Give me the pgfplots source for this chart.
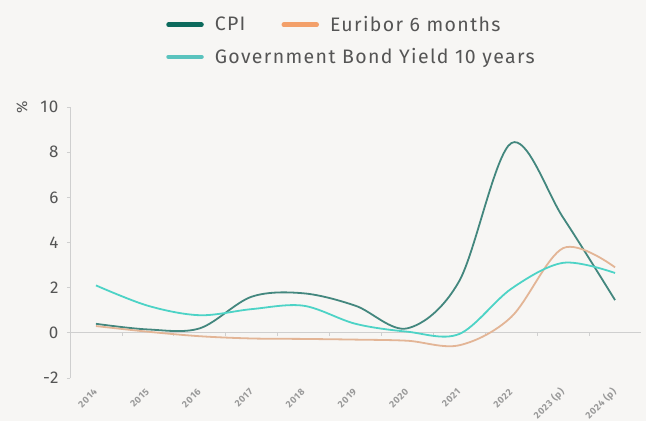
\documentclass[border=0pt]{standalone}
\usepackage{pgfplots}
\pgfplotsset{compat=1.18}
\usepackage{fontspec}
\setmainfont{Fira Sans}[LetterSpace=7]
\definecolor{bg}{HTML}{F7F6F4}
\definecolor{axisgray}{HTML}{CFCFCF}
\definecolor{labelgray}{HTML}{555555}
\definecolor{xlabgray}{HTML}{9A9A9A}
\definecolor{cpiline}{HTML}{43877E}
\definecolor{eurline}{HTML}{E3B596}
\definecolor{bondline}{HTML}{4DD3C6}
\definecolor{cpileg}{HTML}{0D6B5D}
\definecolor{eurleg}{HTML}{F3A06A}
\definecolor{bondleg}{HTML}{5AC3BE}
\begin{document}
\begin{tikzpicture}
\fill[bg] (0,0) rectangle (646pt,421pt);
\path[use as bounding box] (0,0) rectangle (646pt,421pt);
\begin{axis}[
  at={(70pt,43pt)}, anchor=south west,
  scale only axis, width=571pt, height=271pt,
  xmin=-0.5, xmax=10.5, ymin=-2, ymax=10,
  axis y line*=left, axis x line*=middle,
  axis line style={draw=axisgray, line width=0.9pt, -},
  ytick={-2,0,...,10},
  /pgf/number format/assume math mode=true,
  yticklabel style={font=\fontsize{17}{17}\selectfont, text=labelgray, xshift=-5pt},
  tick style={draw=axisgray, line width=0.8pt},
  tick align=outside, major tick length=3pt,
  xtick={0.5,1.5,...,9.5}, xticklabels={},
  extra x ticks={0,1,...,10},
  extra x tick labels={2014,2015,2016,2017,2018,2019,2020,2021,2022,2023 (p),2024 (p)},
  extra x tick style={major tick length=0pt,
    tick label style={yshift=-55pt, xshift=2pt, rotate=45, anchor=east,
      font=\fontsize{9.5}{9.5}\selectfont\bfseries, text=xlabgray}},
  ylabel={\%},
  ylabel style={at={(axis description cs:-0.084,1)}, anchor=center,
    font=\fontsize{15}{15}\selectfont, text=labelgray},
  clip=false,
  legend style={at={(axis description cs:0.163,1.35)}, anchor=north west,
    draw=none, fill=none, font=\fontsize{19.5}{19.5}\selectfont, text=labelgray,
    /tikz/every odd column/.append style={column sep=9pt},
    /tikz/every even column/.append style={column sep=34pt},
    row sep=11.5pt},
  legend columns=2, legend cell align=left,
  legend image code/.code={\draw[line width=4.5pt, line cap=round] (0pt,0pt) -- (33pt,0pt);},
  every axis plot/.append style={line width=1.8pt, smooth, tension=0.55, forget plot},
]
\addplot[cpiline] coordinates {(0,0.4) (1,0.15) (2,0.2) (3,1.6) (4,1.75) (5,1.2) (6,0.2) (7,2.3) (8,8.4) (9,5.1) (10,1.45)};
\addplot[eurline] coordinates {(0,0.3) (1,0.05) (2,-0.15) (3,-0.25) (4,-0.27) (5,-0.3) (6,-0.35) (7,-0.55) (8,0.7) (9,3.75) (10,2.9)};
\addplot[bondline] coordinates {(0,2.1) (1,1.2) (2,0.78) (3,1.05) (4,1.2) (5,0.4) (6,0.05) (7,-0.05) (8,1.95) (9,3.1) (10,2.65)};
\addlegendimage{cpileg}
\addlegendentry{CPI}
\addlegendimage{eurleg}
\addlegendentry{Euribor 6 months}
\addlegendimage{bondleg}
\addlegendentry{\makebox[0pt][l]{Government Bond Yield 10 years}}
\end{axis}
\end{tikzpicture}
\end{document}
